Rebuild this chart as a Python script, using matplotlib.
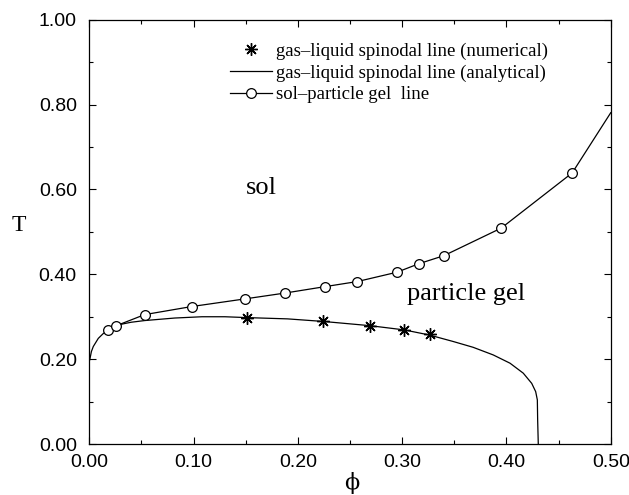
# phase diagram: spinodal line and sol-particle gel line
import numpy as np
import matplotlib
matplotlib.use('Agg')
import matplotlib.pyplot as plt
from matplotlib.legend_handler import HandlerLine2D
from matplotlib.ticker import MultipleLocator, FormatStrFormatter

# sol - particle gel line (open circles), last point is the line end without a marker
gel_phi = [0.0176, 0.026, 0.053, 0.098, 0.149, 0.188, 0.226, 0.257, 0.295, 0.316, 0.340, 0.395, 0.463, 0.500]
gel_T = [0.269, 0.279, 0.305, 0.324, 0.342, 0.356, 0.371, 0.383, 0.405, 0.425, 0.444, 0.509, 0.639, 0.781]

# gas-liquid spinodal, numerical points (asterisks)
num_phi = [0.151, 0.224, 0.269, 0.302, 0.327]
num_T = [0.297, 0.289, 0.279, 0.269, 0.259]

# gas-liquid spinodal, analytical curve
ana_phi = [0.0, 0.0007, 0.002, 0.0038, 0.0086, 0.0134, 0.02, 0.028, 0.04,
           0.053, 0.082, 0.108, 0.13, 0.151, 0.19, 0.224, 0.269, 0.302, 0.326, 0.349,
           0.368, 0.3873, 0.4034, 0.4161, 0.4242, 0.428, 0.4296, 0.4299, 0.4305]
ana_T = [0.195, 0.202, 0.218, 0.2298, 0.249, 0.2605, 0.272, 0.281, 0.287,
         0.291, 0.297, 0.300, 0.300, 0.298, 0.295, 0.289, 0.279, 0.269, 0.257, 0.2416,
         0.228, 0.210, 0.1905, 0.167, 0.143, 0.1235, 0.104, 0.057, 0.0]

serif = 'Liberation Serif'
sans = 'Liberation Sans'
asterisk = (8, 2, 0)


class RightMarker(HandlerLine2D):
    # put the single legend marker at the right end of the handle
    def get_xdata(self, legend, xdescent, ydescent, width, height, fontsize):
        xdata = np.array([-xdescent, -xdescent + width])
        return xdata, np.array([-xdescent + width * 0.9])


fig = plt.figure(figsize=(6.29, 4.95), dpi=100)
ax = fig.add_axes([0.142, 0.103, 0.829, 0.857])

l_num, = ax.plot(num_phi, num_T, linestyle='none', marker=asterisk, markersize=9,
                 markeredgewidth=1.0, color='black',
                 label='gas\u2013liquid spinodal line (numerical)')
l_ana, = ax.plot(ana_phi, ana_T, color='black', linewidth=0.9,
                 label='gas\u2013liquid spinodal line (analytical)')
l_gel, = ax.plot(gel_phi, gel_T, color='black', linewidth=0.9, marker='o',
                 markersize=7, markerfacecolor='white', markeredgewidth=0.9,
                 markevery=list(range(len(gel_phi) - 1)),
                 label='sol\u2013particle gel  line')

ax.set_xlim(0, 0.5)
ax.set_ylim(0, 1.0)
ax.xaxis.set_major_locator(MultipleLocator(0.1))
ax.xaxis.set_minor_locator(MultipleLocator(0.05))
ax.yaxis.set_major_locator(MultipleLocator(0.2))
ax.yaxis.set_minor_locator(MultipleLocator(0.1))
ax.xaxis.set_major_formatter(FormatStrFormatter('%.2f'))
ax.yaxis.set_major_formatter(FormatStrFormatter('%.2f'))
ax.tick_params(which='both', direction='in', top=True, right=True, width=0.8)
ax.tick_params(which='major', length=5)
ax.tick_params(which='minor', length=3)
ax.tick_params(axis='y', pad=9)
ax.tick_params(axis='x', pad=7)
for lab in ax.get_xticklabels() + ax.get_yticklabels():
    lab.set_fontfamily(sans)
    lab.set_fontsize(14)
for sp in ax.spines.values():
    sp.set_linewidth(0.9)

ax.set_xlabel('\u03d5', fontfamily='DejaVu Serif', fontsize=16, va='center')
ax.xaxis.set_label_coords(0.5036, -0.092)
ax.set_ylabel('T', fontfamily=serif, fontsize=17, rotation=0, va='center')
ax.yaxis.set_label_coords(-0.135, 0.515)

ax.text(0.165, 0.603, 'sol', fontfamily=serif, fontsize=19, ha='center', va='center')
ax.text(0.361, 0.354, 'particle gel', fontfamily=serif, fontsize=19, ha='center', va='center')

ax.legend(handles=[l_num, l_ana, l_gel], loc='upper left', bbox_to_anchor=(0.2697, 0.947),
          frameon=False, borderpad=0, borderaxespad=0, handlelength=2.24, handletextpad=0.21,
          labelspacing=0.25, prop={'family': serif, 'size': 13.5},
          handler_map={l_num: RightMarker(numpoints=1)})

plt.savefig('out.png', dpi=100)
